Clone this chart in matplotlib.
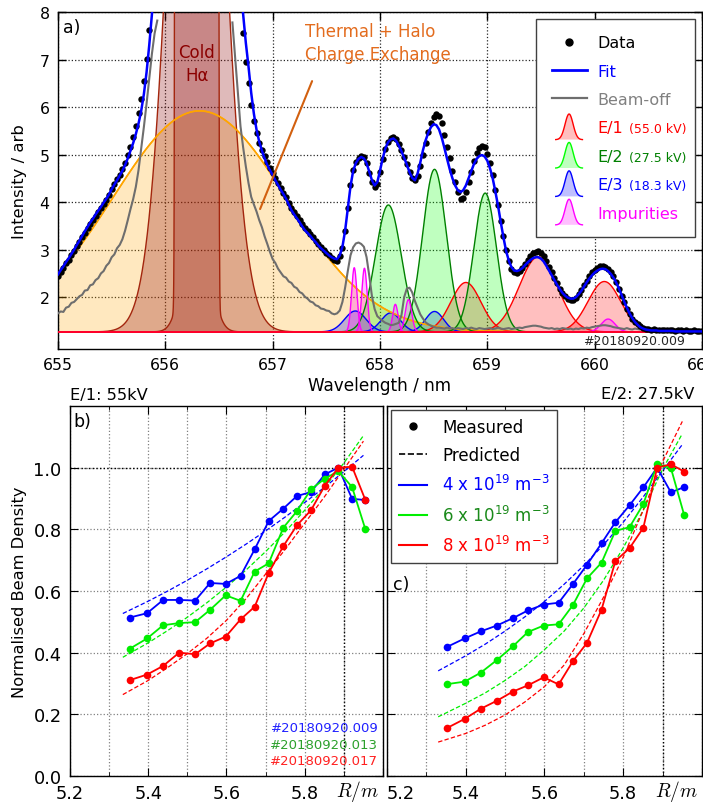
import numpy as np
import matplotlib
matplotlib.use("Agg")
import matplotlib.pyplot as plt
from matplotlib.lines import Line2D
from matplotlib.patches import Patch, Polygon
from matplotlib.legend_handler import HandlerBase
from matplotlib.ticker import MultipleLocator, FormatStrFormatter

plt.rcParams['font.family'] = ['DejaVu Sans']
plt.rcParams['xtick.direction'] = 'in'
plt.rcParams['ytick.direction'] = 'in'
plt.rcParams['xtick.top'] = True
plt.rcParams['ytick.right'] = True
plt.rcParams['xtick.major.size'] = 6
plt.rcParams['ytick.major.size'] = 6
plt.rcParams['xtick.minor.size'] = 3
plt.rcParams['ytick.minor.size'] = 3
plt.rcParams['axes.linewidth'] = 1.0

nan = float('nan')

# ---------------- panel a) : spectrum ----------------
wl_first = 655.0
wl_step = 0.025

fit_vals = [
    2.48, 2.57, 2.65, 2.74, 2.82, 2.91, 3.00, 3.10, 3.19, 3.29,
    3.39, 3.48, 3.57, 3.65, 3.74, 3.82, 3.90, 3.99, 4.07, 4.16,
    4.27, 4.37, 4.46, 4.56, 4.66, 4.78, 4.92, 5.08, 5.24, 5.43,
    5.65, 5.92, 6.27, 6.73, 7.30, 7.95, 8.80, 10.0, nan, nan,
    nan, nan, nan, nan, nan, nan, nan, nan, nan, nan,
    nan, nan, nan, nan, nan, nan, nan, nan, nan, nan,
    nan, nan, nan, nan, nan, nan, nan, nan, 8.60, 7.95,
    7.35, 6.85, 6.30, 5.86, 5.52, 5.27, 5.08, 4.92, 4.78, 4.67,
    4.57, 4.46, 4.36, 4.26, 4.17, 4.07, 3.95, 3.83, 3.74, 3.66,
    3.58, 3.49, 3.41, 3.35, 3.29, 3.22, 3.16, 3.09, 3.03, 2.98,
    2.93, 2.88, 2.84, 2.81, 2.80, 2.88, 3.06, 3.40, 3.87, 4.33,
    4.66, 4.82, 4.91, 4.95, 4.92, 4.82, 4.64, 4.46, 4.35, 4.42,
    4.66, 4.92, 5.13, 5.26, 5.32, 5.34, 5.29, 5.19, 5.07, 4.93,
    4.79, 4.63, 4.51, 4.46, 4.60, 4.83, 5.09, 5.30, 5.46, 5.58,
    5.64, 5.62, 5.53, 5.36, 5.14, 4.91, 4.69, 4.50, 4.35, 4.25,
    4.21, 4.25, 4.35, 4.50, 4.65, 4.80, 4.91, 4.97, 4.99, 4.96,
    4.87, 4.71, 4.50, 4.22, 3.92, 3.58, 3.26, 2.97, 2.77, 2.63,
    2.56, 2.55, 2.57, 2.61, 2.67, 2.73, 2.78, 2.82, 2.84, 2.84,
    2.81, 2.75, 2.66, 2.56, 2.46, 2.36, 2.26, 2.17, 2.09, 2.03,
    1.99, 1.97, 1.97, 2.00, 2.06, 2.13, 2.22, 2.31, 2.39, 2.46,
    2.52, 2.56, 2.59, 2.60, 2.59, 2.55, 2.49, 2.41, 2.31, 2.19,
    2.05, 1.91, 1.78, 1.66, 1.56, 1.48, 1.42, 1.37, 1.34, 1.32,
    1.31, 1.30, 1.30, 1.30, 1.29, 1.29, 1.29, 1.29, 1.29, 1.29,
    1.28, 1.28, 1.28, 1.28, 1.28, 1.28, 1.28, 1.28, 1.28, 1.28,
    1.28]

data_vals = [
    2.45, 2.54, 2.62, 2.71, 2.79, 2.88, 2.97, 3.07, 3.16, 3.26,
    3.36, 3.45, 3.54, 3.62, 3.71, 3.79, 3.87, 3.96, 4.04, 4.15,
    4.27, 4.38, 4.48, 4.58, 4.69, 4.82, 4.99, 5.17, 5.37, 5.60,
    5.87, 6.18, 6.55, 7.02, 7.62, nan, nan, nan, nan, nan,
    nan, nan, nan, nan, nan, nan, nan, nan, nan, nan,
    nan, nan, nan, nan, nan, nan, nan, nan, nan, nan,
    nan, nan, nan, nan, nan, nan, nan, nan, nan, 7.55,
    6.95, 6.50, 6.05, 5.70, 5.45, 5.25, 5.10, 4.96, 4.84, 4.72,
    4.61, 4.50, 4.40, 4.30, 4.20, 4.10, 3.99, 3.88, 3.79, 3.71,
    3.63, 3.54, 3.46, 3.39, 3.33, 3.26, 3.19, 3.12, 3.05, 2.99,
    2.94, 2.88, 2.82, 2.78, 2.77, 2.86, 3.04, 3.40, 3.88, 4.35,
    4.68, 4.85, 4.93, 4.97, 4.94, 4.83, 4.62, 4.42, 4.31, 4.38,
    4.63, 4.90, 5.12, 5.27, 5.34, 5.36, 5.32, 5.22, 5.10, 4.95,
    4.80, 4.63, 4.50, 4.46, 4.55, 4.75, 5.00, 5.25, 5.47, 5.66,
    5.79, 5.86, 5.82, 5.66, 5.42, 5.17, 4.92, 4.66, 4.42, 4.22,
    4.07, 4.08, 4.22, 4.42, 4.64, 4.86, 5.03, 5.14, 5.19, 5.15,
    5.02, 4.82, 4.57, 4.26, 3.94, 3.60, 3.28, 2.99, 2.76, 2.60,
    2.53, 2.51, 2.55, 2.62, 2.70, 2.79, 2.86, 2.92, 2.96, 2.97,
    2.93, 2.86, 2.76, 2.64, 2.52, 2.40, 2.29, 2.18, 2.09, 2.02,
    1.97, 1.95, 1.95, 1.99, 2.06, 2.15, 2.25, 2.35, 2.44, 2.52,
    2.58, 2.62, 2.65, 2.66, 2.64, 2.60, 2.53, 2.44, 2.32, 2.18,
    2.03, 1.89, 1.76, 1.64, 1.55, 1.48, 1.43, 1.39, 1.36, 1.34,
    1.33, 1.32, 1.33, 1.31, 1.32, 1.31, 1.30, 1.31, 1.30, 1.31,
    1.29, 1.30, 1.30, 1.29, 1.30, 1.29, 1.29, 1.30, 1.28, 1.29,
    1.28]

beamoff_vals = [
    1.66, 1.70, 1.69, 1.78, 1.80, 1.88, 1.90, 1.96, 2.02, 2.05,
    2.14, 2.15, 2.25, 2.27, 2.36, 2.40, 2.50, 2.55, 2.66, 2.72,
    2.84, 2.90, 3.03, 3.10, 3.22, 3.40, 3.62, 3.85, 4.06, 4.32,
    4.67, 5.13, 5.58, 6.07, 6.60, 7.12, 7.55, 7.82, nan, nan,
    nan, nan, nan, nan, nan, nan, nan, nan, nan, nan,
    nan, nan, nan, nan, nan, nan, nan, nan, nan, nan,
    nan, nan, nan, nan, nan, 7.78, 7.05, 6.30, 5.60, 5.15,
    4.75, 4.40, 4.11, 3.95, 3.80, 3.62, 3.47, 3.28, 3.12, 2.95,
    2.80, 2.72, 2.60, 2.52, 2.44, 2.41, 2.33, 2.30, 2.22, 2.19,
    2.11, 2.08, 2.01, 1.97, 1.91, 1.89, 1.83, 1.81, 1.76, 1.75,
    1.72, 1.71, 1.66, 1.64, 1.66, 1.72, 1.90, 2.20, 2.55, 2.88,
    3.05, 3.13, 3.15, 3.12, 3.06, 2.84, 2.45, 2.02, 1.75, 1.60,
    1.55, 1.50, 1.46, 1.44, 1.41, 1.42, 1.44, 1.46, 1.62, 2.00,
    2.18, 2.20, 2.10, 1.92, 1.78, 1.64, 1.55, 1.47, 1.43, 1.40,
    1.38, 1.36, 1.36, 1.35, 1.34, 1.36, 1.34, 1.35, 1.33, 1.35,
    1.34, 1.33, 1.35, 1.34, 1.36, 1.34, 1.33, 1.35, 1.34, 1.33,
    1.34, 1.35, 1.33, 1.34, 1.36, 1.34, 1.33, 1.34, 1.35, 1.33,
    1.34, 1.35, 1.36, 1.35, 1.37, 1.38, 1.39, 1.40, 1.40, 1.39,
    1.38, 1.36, 1.35, 1.34, 1.35, 1.33, 1.34, 1.33, 1.35, 1.34,
    1.33, 1.34, 1.32, 1.34, 1.33, 1.35, 1.34, 1.36, 1.35, 1.37,
    1.38, 1.39, 1.40, 1.41, 1.41, 1.40, 1.39, 1.37, 1.36, 1.35,
    1.34, 1.33, 1.35, 1.33, 1.32, 1.34, 1.33, 1.32, 1.34, 1.33,
    1.32, 1.33, 1.31, 1.33, 1.32, 1.31, 1.33, 1.32, 1.31, 1.32,
    1.31, 1.33, 1.31, 1.30, 1.32, 1.31, 1.30, 1.32, 1.31, 1.30,
    1.31]

background = 1.27

# fitted Gaussian components: centre (nm), height above background, sigma (nm)
thermal_center, thermal_height, thermal_width = 656.32, 4.65, 0.81
cold_centers = [656.29, 656.2925, 656.2925]
cold_heights = [18.0, 6.1e15, 3.0]
cold_widths = [0.22, 0.025, 0.106]
cold_groups = [[0], [1, 2]]
e1_centers = [658.80, 659.475, 660.09]
e1_heights = [1.04, 1.58, 1.06]
e1_widths = [0.14, 0.178, 0.152]
e2_centers = [658.078, 658.508, 658.98]
e2_heights = [2.67, 3.42, 2.92]
e2_widths = [0.12, 0.11, 0.105]
e3_centers = [657.77, 658.10, 658.508]
e3_heights = [0.44, 0.40, 0.43]
e3_widths = [0.10, 0.09, 0.085]
imp_centers = [657.76, 657.855, 658.143, 658.265, 660.125]
imp_heights = [1.35, 1.34, 0.58, 0.68, 0.27]
imp_widths = [0.025, 0.025, 0.025, 0.03, 0.065]

shot_a = '#20180920.009'

# ---------------- panels b), c) : beam density ----------------
R_meas = [5.353, 5.397, 5.438, 5.479, 5.520, 5.558, 5.598, 5.636, 5.672,
          5.708, 5.745, 5.780, 5.816, 5.851, 5.886, 5.921, 5.955]

b_meas_4 = [0.514, 0.528, 0.571, 0.571, 0.569, 0.626, 0.623, 0.649, 0.735,
            0.827, 0.867, 0.908, 0.921, 0.978, 1.000, 0.899, 0.895]
b_meas_6 = [0.413, 0.446, 0.489, 0.496, 0.499, 0.539, 0.586, 0.568, 0.663,
            0.690, 0.805, 0.859, 0.930, 0.964, 0.989, 0.937, 0.800]
b_meas_8 = [0.311, 0.329, 0.357, 0.400, 0.395, 0.430, 0.452, 0.508, 0.549,
            0.659, 0.745, 0.813, 0.862, 0.941, 1.000, 1.003, 0.895]

c_meas_4 = [0.419, 0.446, 0.469, 0.488, 0.512, 0.537, 0.556, 0.562, 0.622,
            0.685, 0.755, 0.823, 0.878, 0.936, 1.000, 0.920, 0.937]
c_meas_6 = [0.298, 0.306, 0.335, 0.376, 0.421, 0.467, 0.488, 0.492, 0.554,
            0.641, 0.692, 0.795, 0.807, 0.882, 1.011, 0.999, 0.845]
c_meas_8 = [0.156, 0.185, 0.218, 0.244, 0.274, 0.294, 0.320, 0.297, 0.372,
            0.432, 0.540, 0.697, 0.739, 0.805, 1.000, 1.011, 0.987]

b_pred_R = [5.335, 5.40, 5.45, 5.50, 5.55, 5.60, 5.65, 5.70, 5.75, 5.80, 5.85, 5.90, 5.95]
b_pred_4 = [0.527, 0.567, 0.600, 0.635, 0.672, 0.711, 0.752, 0.795, 0.840, 0.887, 0.936, 0.987, 1.040]
b_pred_6 = [0.385, 0.432, 0.472, 0.515, 0.562, 0.613, 0.668, 0.728, 0.792, 0.862, 0.935, 1.015, 1.104]
b_pred_8 = [0.264, 0.310, 0.352, 0.397, 0.447, 0.505, 0.575, 0.655, 0.735, 0.820, 0.905, 0.995, 1.086]

c_pred_R = [5.33, 5.40, 5.45, 5.50, 5.55, 5.60, 5.65, 5.70, 5.75, 5.80, 5.85, 5.90, 5.95]
c_pred_4 = [0.341, 0.390, 0.428, 0.470, 0.516, 0.566, 0.622, 0.683, 0.750, 0.823, 0.904, 0.990, 1.075]
c_pred_6 = [0.192, 0.236, 0.270, 0.310, 0.355, 0.410, 0.470, 0.545, 0.635, 0.740, 0.860, 0.995, 1.110]
c_pred_8 = [0.110, 0.138, 0.165, 0.198, 0.240, 0.290, 0.360, 0.462, 0.580, 0.710, 0.860, 1.020, 1.150]

density_labels = ['4 x 10$^{19}$ m$^{-3}$', '6 x 10$^{19}$ m$^{-3}$', '8 x 10$^{19}$ m$^{-3}$']
density_colors = ['#0000ff', '#00ee00', '#ff0000']
density_text_colors = ['#0000ff', '#1a8a1a', '#ff0000']
shots_b = ['#20180920.009', '#20180920.013', '#20180920.017']
shot_colors = ['#2020ff', '#2ca02c', '#ff2020']
norm_R = 5.9
norm_level = 1.0


def gauss(x, c, h, w):
    return h * np.exp(-0.5 * ((x - c) / w) ** 2)


fig = plt.figure(figsize=(7.03, 8.04), dpi=100)
axa = fig.add_axes([58 / 703, 1 - 350 / 804, 644 / 703, 337 / 804])
axb = fig.add_axes([70 / 703, 27 / 804, 313 / 703, 370 / 804])
axc = fig.add_axes([387 / 703, 27 / 804, 315 / 703, 370 / 804])

# ---------------- draw panel a ----------------
ax = axa
xs = np.linspace(655.0, 661.0, 3001)
wl = wl_first + wl_step * np.arange(len(fit_vals))


def draw_comp(g, fc, ec, z, alpha=0.25, lw=1.0):
    g = np.minimum(g, 40.0)
    ax.fill_between(xs, background, background + g, facecolor=fc, alpha=alpha,
                    lw=0, zorder=z)
    ax.plot(xs, background + g, color=ec, lw=lw, zorder=z + 0.5)


draw_comp(gauss(xs, thermal_center, thermal_height, thermal_width), 'orange', 'orange', 2.0)
for grp in cold_groups:
    g = np.zeros_like(xs)
    for k in grp:
        g = g + gauss(xs, cold_centers[k], cold_heights[k], cold_widths[k])
    draw_comp(g, 'darkred', '#a3260e', 2.1, alpha=0.27)
ax.plot(xs, background + gauss(xs, thermal_center, thermal_height, thermal_width),
        color='orange', lw=1.2, zorder=2.9)
for c, h, w in zip(e3_centers, e3_heights, e3_widths):
    draw_comp(gauss(xs, c, h, w), 'blue', 'blue', 2.2)
for c, h, w in zip(e1_centers, e1_heights, e1_widths):
    draw_comp(gauss(xs, c, h, w), 'red', 'red', 2.3)
for c, h, w in zip(e2_centers, e2_heights, e2_widths):
    draw_comp(gauss(xs, c, h, w), 'lime', 'green', 2.4)
for c, h, w in zip(imp_centers, imp_heights, imp_widths):
    draw_comp(gauss(xs, c, h, w), 'magenta', 'magenta', 2.5)
ax.axhline(background, color='red', lw=1.2, zorder=3.2)

ax.plot(wl, beamoff_vals, color='#6e6e6e', lw=1.5, zorder=4)
ax.plot(wl, data_vals, 'o', color='k', ms=4.6, mew=0, zorder=5)
ax.plot(wl, fit_vals, color='blue', lw=1.8, zorder=6)

ax.set_xlim(655, 661)
ax.set_ylim(0.91, 8.0)
ax.set_xticks([655, 656, 657, 658, 659, 660, 661])
ax.set_yticks([2, 3, 4, 5, 6, 7, 8])
ax.tick_params(labelsize=11.3, pad=6, width=1)
ax.set_axisbelow(True)
ax.grid(True, color='0.15', ls=':', lw=0.9)
ax.set_xlabel('Wavelength / nm', fontsize=12.2, labelpad=3)
ax.set_ylabel('Intensity / arb', fontsize=11.8, labelpad=9)

ax.text(0.008, 0.982, 'a)', transform=ax.transAxes, ha='left', va='top', fontsize=12.5)
ax.text(656.295, 6.92, 'Cold\nHα', color='#8b0000', ha='center', va='center',
        fontsize=12, linespacing=1.35, zorder=7)
ax.text(657.30, 7.78, 'Thermal + Halo\nCharge Exchange', color='#e36c1e',
        ha='left', va='top', fontsize=12, linespacing=1.3, zorder=7)
ax.annotate('', xy=(656.873, 3.80), xytext=(657.377, 6.60),
            arrowprops=dict(arrowstyle='-', color='#d2600f', lw=1.5), zorder=7)
ax.text(0.974, 0.024, shot_a, transform=ax.transAxes, ha='right', va='center',
        fontsize=9, color='0.15', zorder=7)


class HandlerGauss(HandlerBase):
    def create_artists(self, legend, orig_handle, xdescent, ydescent, width,
                       height, fontsize, trans):
        u = np.linspace(-1, 1, 41)
        px = -xdescent + width * (0.5 + 0.38 * u)
        y0 = -ydescent - 0.65 * height
        py = y0 + 2.3 * height * np.exp(-0.5 * (u / 0.3) ** 2)
        poly = Polygon(np.column_stack([px, py]), closed=True,
                       facecolor=orig_handle.get_facecolor(), edgecolor='none',
                       transform=trans)
        ln = Line2D(px, py, color=orig_handle.get_edgecolor(), lw=1.0, transform=trans)
        return [poly, ln]


handles = [Line2D([], [], marker='o', ls='none', color='k', ms=5),
           Line2D([], [], color='blue', lw=2),
           Line2D([], [], color='#6e6e6e', lw=1.6),
           Patch(facecolor=(1, 0, 0, 0.25), edgecolor='red'),
           Patch(facecolor=(0, 1, 0, 0.25), edgecolor='lime'),
           Patch(facecolor=(0, 0, 1, 0.25), edgecolor='blue'),
           Patch(facecolor=(1, 0, 1, 0.25), edgecolor='magenta')]
labels = ['Data', 'Fit', 'Beam-off', 'E/1', 'E/2', 'E/3', 'Impurities']
leg = ax.legend(handles, labels, loc='upper right', fontsize=11.5, fancybox=False,
                edgecolor='0.25', framealpha=1, numpoints=1, borderpad=1.0,
                labelspacing=0.84, handlelength=2.2, handletextpad=0.7,
                borderaxespad=0.45, handler_map={Patch: HandlerGauss()})
leg.get_frame().set_linewidth(1.0)
leg.set_zorder(8)
text_cols = ['k', 'blue', 'gray', 'red', 'green', 'blue', 'magenta']
for t, c in zip(leg.get_texts(), text_cols):
    t.set_color(c)
kv = ['(55.0 kV)', '(27.5 kV)', '(18.3 kV)']
for t, s, c in zip(leg.get_texts()[3:6], kv, ['red', 'green', 'blue']):
    ax.annotate(s, xy=(1, 0.45), xycoords=t, xytext=(4, 0), textcoords='offset points',
                ha='left', va='center', fontsize=9, color=c, zorder=9)


# ---------------- draw panels b, c ----------------
def beam_panel(ax, meas, pred_R, preds):
    for m, p, col in zip(meas, preds, density_colors):
        ax.plot(pred_R, p, ls='--', dashes=(3.5, 1.8), color=col, lw=0.9, zorder=3)
        ax.plot(R_meas, m, '-o', color=col, lw=1.3, ms=5.5, mew=0, zorder=4)
    ax.set_xlim(5.2, 6.0)
    ax.set_ylim(0.0, 1.2)
    ax.set_xticks([5.2, 5.4, 5.6, 5.8, 6.0])
    ax.set_xticklabels(['5.2', '5.4', '5.6', '5.8', ''])
    ax.xaxis.set_minor_locator(MultipleLocator(0.1))
    ax.set_yticks([0.0, 0.2, 0.4, 0.6, 0.8, 1.0])
    ax.yaxis.set_major_formatter(FormatStrFormatter('%.1f'))
    ax.tick_params(labelsize=12.8, pad=6)
    ax.set_axisbelow(True)
    ax.grid(True, which='both', color='0.5', ls=':', lw=0.9)
    ax.axvline(norm_R, color='k', ls=':', lw=1.0, zorder=2)
    ax.axhline(norm_level, color='k', ls=':', lw=1.0, zorder=2)
    ax.annotate('$R/m$', xy=(1, 0), xycoords='axes fraction', xytext=(-4, -15),
                textcoords='offset pixels', ha='right', va='center', fontsize=14,
                math_fontfamily='cm')


beam_panel(axb, [b_meas_4, b_meas_6, b_meas_8], b_pred_R, [b_pred_4, b_pred_6, b_pred_8])
beam_panel(axc, [c_meas_4, c_meas_6, c_meas_8], c_pred_R, [c_pred_4, c_pred_6, c_pred_8])

axb.set_ylabel('Normalised Beam Density', fontsize=11.7, labelpad=4.5)
axb.set_title('E/1: 55kV', loc='left', fontsize=11.7, pad=5)
axb.text(0.01, 0.985, 'b)', transform=axb.transAxes, ha='left', va='top', fontsize=12.5)
for i, (s, c) in enumerate(zip(shots_b, shot_colors)):
    axb.text(0.985, 0.130 - 0.044 * i, s, transform=axb.transAxes, ha='right',
             va='center', fontsize=9.5, color=c)

axc.tick_params(labelleft=False)
axc.get_xticklabels()[0].set_ha('left')
axc.text(0.975, 1.013, 'E/2: 27.5kV', transform=axc.transAxes, ha='right',
         va='bottom', fontsize=11.7)
axc.text(0.019, 0.543, 'c)', transform=axc.transAxes, ha='left', va='top', fontsize=12.5)

lh = [Line2D([], [], marker='o', ls='none', color='k', ms=5),
      Line2D([], [], ls='--', color='k', lw=1.2)]
for col in density_colors:
    lh.append(Line2D([], [], color=col, lw=1.5))
leg2 = axc.legend(lh, ['Measured', 'Predicted'] + density_labels, loc='upper left',
                  fontsize=12, fancybox=False, edgecolor='0.25', framealpha=1,
                  borderaxespad=0.25, handlelength=1.7, handletextpad=0.9,
                  labelspacing=0.62, borderpad=0.45, numpoints=1)
leg2.get_frame().set_linewidth(1.0)
for t, c in zip(leg2.get_texts(), ['k', 'k'] + density_text_colors):
    t.set_color(c)

fig.savefig('out.png', dpi=100, facecolor='white')
